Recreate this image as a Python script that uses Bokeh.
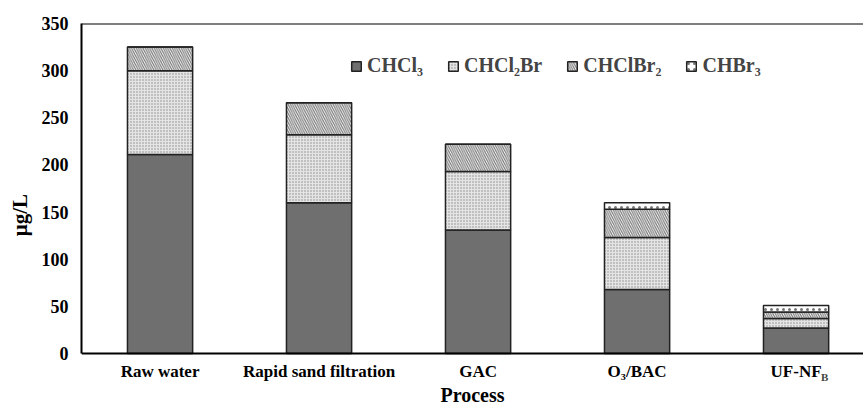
from bokeh.plotting import figure
from bokeh.models import (FixedTicker, Legend, LegendItem, Span, Label, Range1d,
                          ColumnDataSource)
from bokeh.embed import file_html
from bokeh.resources import INLINE

# ---- data ----
processes = ["Raw water", "Rapid sand filtration", "GAC", "O\u2083/BAC", "UF-NF"]
species = ["CHCl\u2083", "CHCl\u2082Br", "CHClBr\u2082", "CHBr\u2083"]
chcl3 = [211, 160, 131, 68, 27]
chcl2br = [89, 72, 62, 55, 10]
chclbr2 = [25, 34, 29, 30, 7]
chbr3 = [0, 0, 0, 7, 7]
y_ticks = [0, 50, 100, 150, 200, 250, 300, 350]

FONT = "Liberation Serif"

xpos = list(range(len(processes)))
source = ColumnDataSource(dict(x=xpos, s0=chcl3, s1=chcl2br, s2=chclbr2, s3=chbr3))

p = figure(width=863, height=406, output_backend="svg", toolbar_location=None,
           x_range=Range1d(-0.494, 4.424), y_range=Range1d(-56.2, 350),
           min_border_left=81, min_border_top=23, min_border_right=0,
           min_border_bottom=0)
p.outline_line_color = None
p.xgrid.visible = False
p.ygrid.visible = False
p.background_fill_color = "white"

renderers = p.vbar_stack(["s0", "s1", "s2", "s3"], x="x", width=0.41, source=source,
                         fill_color=["#6f6f6f", "#e4e4e4", "white", "white"],
                         hatch_pattern=[" ", "dot", "left_diagonal_line", "dot"],
                         hatch_color=["#555555", "#8a8a8a", "#7a7a7a", "#777777"],
                         hatch_scale=[4, 3, 4.5, 6],
                         hatch_weight=[1, 1, 1.2, 1.5],
                         line_color="#222222", line_width=1.5)

# top frame line
p.add_layout(Span(location=350, dimension="width", line_color="black", line_width=2))

legend = Legend(items=[LegendItem(label=s, renderers=[r]) for s, r in zip(species, renderers)],
                orientation="horizontal", location=(269, 329))
legend.border_line_color = None
legend.background_fill_alpha = 0
legend.label_text_font = FONT
legend.label_text_font_style = "bold"
legend.label_text_font_size = "20px"
legend.glyph_width = 12
legend.glyph_height = 12
legend.label_standoff = 5
legend.spacing = 24
legend.padding = 0
legend.margin = 0
p.add_layout(legend)

# axes
for ax in (p.xaxis[0], p.yaxis[0]):
    ax.axis_line_width = 2
    ax.axis_line_color = "black"
    ax.major_tick_line_color = None
    ax.minor_tick_line_color = None
    ax.major_label_text_font = FONT
    ax.major_label_text_font_style = "bold"
    ax.major_label_text_color = "black"
    ax.axis_label_text_font = FONT
    ax.axis_label_text_font_style = "bold"
    ax.axis_label_text_color = "black"

p.yaxis.ticker = FixedTicker(ticks=y_ticks)
p.yaxis.bounds = (0, 350)
p.yaxis.major_label_text_font_size = "18px"
p.yaxis.major_label_standoff = 7
p.yaxis.axis_label = "\u03bcg/L"
p.yaxis.axis_label_text_font_size = "21px"
p.yaxis.axis_label_standoff = 7

p.xaxis.fixed_location = 0
p.xaxis.ticker = FixedTicker(ticks=xpos)
p.xaxis.major_label_overrides = {i: t for i, t in zip(xpos, processes)}
p.xaxis.major_label_text_font_size = "17px"
p.xaxis.major_label_standoff = 2
p.xaxis.axis_label = "Process"
p.xaxis.axis_label_text_font_size = "20px"
p.xaxis.axis_label_standoff = 0

# subscript B for UF-NF_B
p.add_layout(Label(x=xpos[-1], y=0, x_offset=25, y_offset=-23, text="B",
                   text_font=FONT, text_font_style="bold", text_font_size="11px",
                   text_align="left", text_baseline="middle"))

open("out.html", "w").write(file_html(p, INLINE))
